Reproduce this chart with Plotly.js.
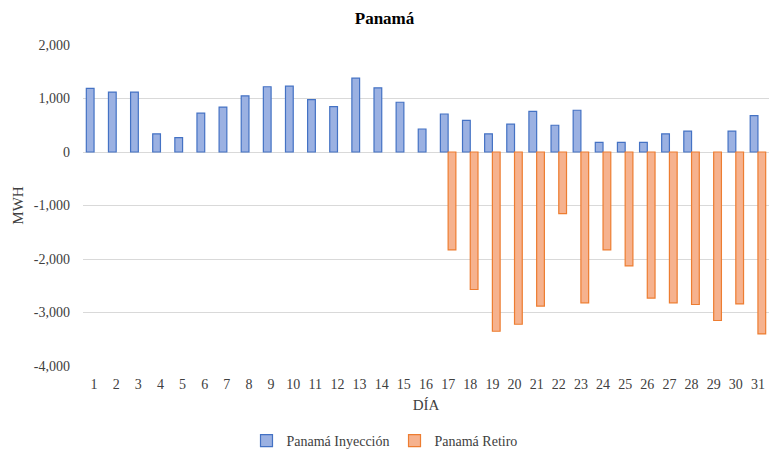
<!DOCTYPE html>
<html>
<head>
<meta charset="utf-8">
<script src="https://cdn.plot.ly/plotly-3.0.1.min.js"></script>
<style>html,body{margin:0;padding:0;background:#fff;}#chart{width:769px;height:454px;}</style>
</head>
<body>
<div id="chart"></div>
<script>
const days = ["1","2","3","4","5","6","7","8","9","10","11","12","13","14","15","16","17","18","19","20","21","22","23","24","25","26","27","28","29","30","31"];
const inyeccion = [1190,1120,1120,340,270,725,840,1050,1220,1230,980,850,1380,1200,930,430,710,590,340,520,760,500,780,180,180,180,340,390,null,390,680];
const retiro = [null,null,null,null,null,null,null,null,null,null,null,null,null,null,null,null,-1830,-2570,-3350,-3220,-2880,-1150,-2820,-1830,-2130,-2730,-2820,-2850,-3150,-2840,-3400];
const seriesNames = ["Panamá Inyección","Panamá Retiro"];
const yTickVals = [2000,1000,0,-1000,-2000,-3000,-4000];
const yTickText = ["2,000","1,000","0","-1,000","-2,000","-3,000","-4,000"];

const font = "Liberation Serif";
const traces = [
  {type:'bar', name:seriesNames[0], x:days, y:inyeccion,
   marker:{color:'#9bb1e2', line:{color:'#4472C4', width:1.2}}},
  {type:'bar', name:seriesNames[1], x:days, y:retiro,
   marker:{color:'#f6b28e', line:{color:'#ED7D31', width:1.2}}}
];
const layout = {
  width:769, height:454,
  margin:{l:83, r:0, t:45, b:88},
  paper_bgcolor:'#fff', plot_bgcolor:'#fff',
  font:{family:font, size:14, color:'#404040'},
  barmode:'group', bargap:0.3, bargroupgap:0,
  title:{text:'<b>Panamá</b>', font:{family:font, size:17, color:'#000'}, x:0.5, xanchor:'center', y:1-18/454, yanchor:'middle', yref:'container'},
  xaxis:{type:'category', showgrid:false, zeroline:false, showline:false, ticks:'',
    tickfont:{family:font, size:14, color:'#404040'}, ticklabelstandoff:8,
    title:{text:'DÍA', font:{family:font, size:15, color:'#404040'}, standoff:8}},
  yaxis:{range:[-4000,2000], tickvals:yTickVals, ticktext:yTickText, showgrid:true, gridcolor:'#d9d9d9', gridwidth:1,
    zeroline:true, zerolinecolor:'#d9d9d9', zerolinewidth:1, showline:false, ticks:'',
    tickfont:{family:font, size:14, color:'#404040'}, ticklabelstandoff:12,
    title:{text:'MWH', font:{family:font, size:15, color:'#404040'}, standoff:6}},
  showlegend:true,
  legend:{orientation:'h', x:0.5, xanchor:'center', xref:'container', y:13/454, yanchor:'middle', yref:'container',
    font:{family:font, size:14, color:'#404040'}, traceorder:'normal', itemwidth:30}
};
Plotly.newPlot('chart', traces, layout, {displayModeBar:false, staticPlot:true});
</script>
</body>
</html>
